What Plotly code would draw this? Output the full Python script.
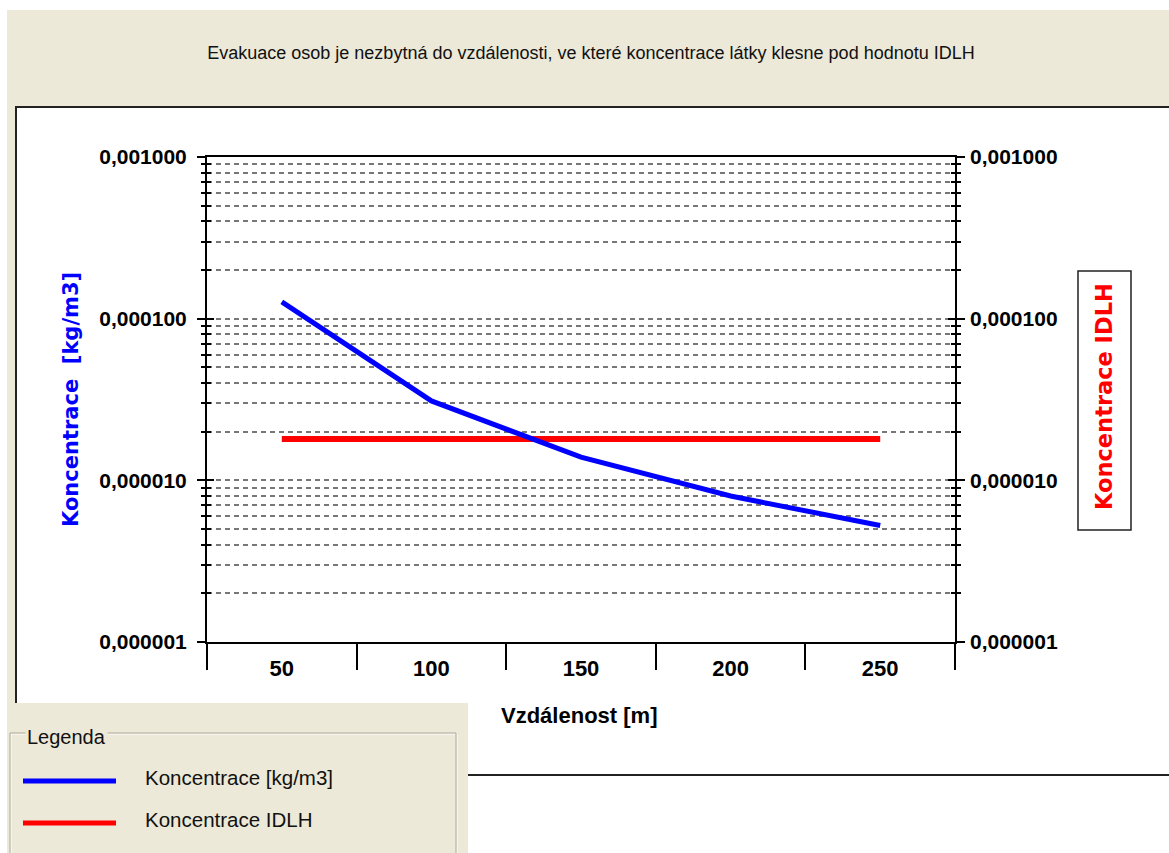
import plotly.graph_objects as go

# ---------------- data ----------------
distance_m = ["50", "100", "150", "200", "250"]
concentration = [1.27e-4, 3.1e-5, 1.39e-5, 8.0e-6, 5.25e-6]
idlh = [1.8e-5, 1.8e-5, 1.8e-5, 1.8e-5, 1.8e-5]
y_tick_values = [1e-6, 1e-5, 1e-4, 1e-3]
y_tick_text = ["0,000001", "0,000010", "0,000100", "0,001000"]

# ---------------- geometry / style ----------------
W, H = 1169, 853
PL, PR, PT, PB = 207, 955, 157, 642
BEIGE = "#ECE9D8"
GRID = "#777777"
DASH = "5px,4px"
SANS = "Liberation Sans, Arial, sans-serif"
WIDE = "DejaVu Sans, Verdana, sans-serif"

minor_vals = [k * 10.0 ** e for e in (-6, -5, -4) for k in range(2, 10)]


def fx(p):
    return (p - PL) / (PR - PL)


def fy(p):
    return (PB - p) / (PB - PT)


fig = go.Figure()
# carrier trace for category axis x / left axis y
fig.add_trace(go.Scatter(x=distance_m, y=concentration, mode="lines",
                         line=dict(width=0, color="rgba(0,0,0,0)"),
                         hoverinfo="skip", showlegend=False, xaxis="x", yaxis="y"))
fig.add_trace(go.Scatter(x=distance_m, y=idlh, mode="lines", name="Koncentrace IDLH",
                         line=dict(color="#FF0000", width=6), xaxis="x", yaxis="y2",
                         showlegend=False))
fig.add_trace(go.Scatter(x=distance_m, y=concentration, mode="lines", name="Koncentrace [kg/m3]",
                         line=dict(color="#0000FF", width=5), xaxis="x2", yaxis="y3",
                         showlegend=False))

ytickfont = dict(family=SANS, size=21, color="black", weight="bold")
xtickfont = dict(family=SANS, size=22, color="black", weight="bold")
grid_kw = dict(showgrid=True, gridcolor=GRID, gridwidth=2, griddash=DASH)

fig.update_layout(
    width=W, height=H,
    margin=dict(l=PL, r=W - PR, t=PT, b=H - PB, pad=0),
    paper_bgcolor="white", plot_bgcolor="rgba(0,0,0,0)",
    showlegend=False,
    title=dict(text="Evakuace osob je nezbytná do vzdálenosti, ve které koncentrace látky klesne pod hodnotu IDLH",
               x=591 / W, xanchor="center", xref="container", y=1 - 53 / H, yanchor="middle",
               yref="container", font=dict(family=SANS, size=18, color="#111111")),
    xaxis=dict(type="category", categoryorder="array", categoryarray=distance_m,
               range=[-0.5, 4.5], showline=True, linecolor="black", linewidth=2, mirror=True,
               ticks="outside", ticklen=6, tickcolor="rgba(0,0,0,0)", tickfont=xtickfont,
               showgrid=False, zeroline=False),
    xaxis2=dict(type="category", categoryorder="array", categoryarray=distance_m,
                range=[-0.5, 4.5], overlaying="x", anchor="y", side="bottom",
                ticks="outside", ticklen=27, tickwidth=2, tickcolor="black",
                tickson="boundaries", showticklabels=False, showgrid=False,
                showline=False, zeroline=False),
    yaxis=dict(type="log", range=[-6, -3], tickmode="array", tickvals=y_tick_values,
               ticktext=y_tick_text, ticks="outside", ticklen=8, tickwidth=2,
               tickcolor="black", showline=True, linewidth=2, linecolor="black",
               mirror="allticks", zeroline=False, tickfont=ytickfont, ticklabelstandoff=6,
               minor=dict(tickmode="array", tickvals=minor_vals, ticks="outside", ticklen=4,
                          tickwidth=2, tickcolor="black", **grid_kw),
               **grid_kw),
    yaxis2=dict(type="log", range=[-6, -3], overlaying="y", side="right", anchor="x",
                tickmode="array", tickvals=y_tick_values, ticktext=y_tick_text, ticks="",
                showgrid=False, showline=False, zeroline=False, tickfont=ytickfont,
                ticklabelstandoff=14),
    yaxis3=dict(type="log", range=[-6, -3], overlaying="y", side="left", anchor="x2",
                tickmode="array", tickvals=y_tick_values, ticks="inside", ticklen=7,
                tickwidth=2, tickcolor="black", showline=True, linewidth=2,
                linecolor="black", mirror="allticks", showticklabels=False,
                showgrid=False, zeroline=False,
                minor=dict(tickmode="array", tickvals=minor_vals, ticks="inside",
                           ticklen=4, tickwidth=2, tickcolor="black", showgrid=False)),
)

shapes = [
    # beige window background
    dict(type="rect", xref="paper", yref="paper", x0=fx(7), x1=fx(1175), y0=fy(10), y1=fy(775),
         fillcolor=BEIGE, line=dict(width=0), layer="below"),
    # white chart panel with dark border
    dict(type="rect", xref="paper", yref="paper", x0=fx(16), x1=fx(1180), y0=fy(107), y1=fy(775),
         fillcolor="white", line=dict(color="#222222", width=2), layer="below"),
    # IDLH axis title box
    dict(type="rect", xref="paper", yref="paper", x0=fx(1078), x1=fx(1131), y0=fy(271), y1=fy(530),
         fillcolor="white", line=dict(color="#222222", width=1.5), layer="below"),
    # legend panel
    dict(type="rect", xref="paper", yref="paper", x0=fx(7), x1=fx(468), y0=fy(703), y1=fy(860),
         fillcolor=BEIGE, line=dict(width=0), layer="above"),
    dict(type="rect", xref="paper", yref="paper", x0=fx(11), x1=fx(457), y0=fy(734), y1=fy(870),
         fillcolor="rgba(0,0,0,0)", line=dict(color="white", width=1), layer="above"),
    dict(type="rect", xref="paper", yref="paper", x0=fx(10), x1=fx(456), y0=fy(733), y1=fy(870),
         fillcolor="rgba(0,0,0,0)", line=dict(color="#ACA899", width=1), layer="above"),
    dict(type="line", xref="paper", yref="paper", x0=fx(23), x1=fx(116), y0=fy(781), y1=fy(781),
         line=dict(color="#0000FF", width=5), layer="above"),
    dict(type="line", xref="paper", yref="paper", x0=fx(23), x1=fx(116), y0=fy(823), y1=fy(823),
         line=dict(color="#FF0000", width=5), layer="above"),
]
fig.update_layout(shapes=shapes)

legend_font = dict(family=SANS, size=20.5, color="#111111")
annotations = [
    dict(text="Koncentrace\u00a0 [kg/m3]", textangle=-90, x=fx(71), y=fy(400),
         font=dict(family=WIDE, size=21, color="#0000FF", weight="bold")),
    dict(text="Koncentrace IDLH", textangle=-90, x=fx(1104), y=fy(397),
         font=dict(family=WIDE, size=22.5, color="#FF0000", weight="bold")),
    dict(text="Vzdálenost [m]", x=fx(579), y=fy(715),
         font=dict(family=SANS, size=22, color="black", weight="bold")),
    dict(text="Legenda", x=fx(25), y=fy(737), xanchor="left", bgcolor=BEIGE, borderpad=1,
         font=dict(family=SANS, size=20, color="#111111")),
    dict(text="Koncentrace [kg/m3]", x=fx(143), y=fy(777), xanchor="left", font=legend_font),
    dict(text="Koncentrace IDLH", x=fx(143), y=fy(819), xanchor="left", font=legend_font),
]
for a in annotations:
    a.setdefault("xanchor", "center")
    a.update(xref="paper", yref="paper", yanchor="middle", showarrow=False)
fig.update_layout(annotations=annotations)

fig.write_html("out.html", config={"displayModeBar": False},
               post_script="document.body.style.margin='0px';")
